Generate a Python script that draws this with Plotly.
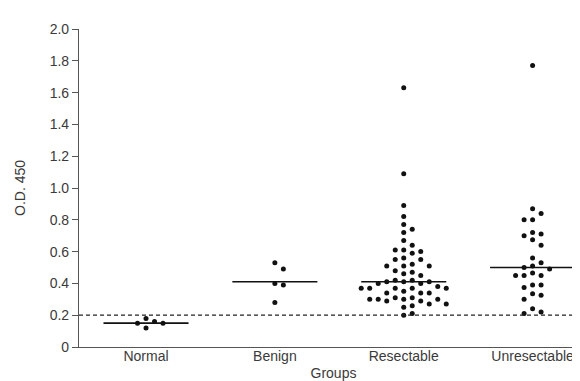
import plotly.graph_objects as go

groups = ["Normal", "Benign", "Resectable", "Unresectable"]

normal = [0.12, 0.15, 0.15, 0.16, 0.18]
benign = [0.28, 0.39, 0.40, 0.49, 0.53]
resectable = [1.63, 1.09, 0.89, 0.82, 0.77, 0.74, 0.72, 0.67, 0.64, 0.61, 0.61,
              0.60, 0.59, 0.56, 0.55, 0.55, 0.51, 0.51, 0.51, 0.52, 0.48, 0.47,
              0.46, 0.45, 0.42, 0.42, 0.41, 0.41, 0.41, 0.40, 0.40, 0.38, 0.37,
              0.37, 0.37, 0.37, 0.37, 0.35, 0.34, 0.34, 0.34, 0.31, 0.30, 0.30,
              0.29, 0.29, 0.30, 0.31, 0.30, 0.27, 0.27, 0.26, 0.25, 0.21, 0.20]
unresectable = [1.77, 0.87, 0.84, 0.80, 0.80, 0.72, 0.71, 0.70, 0.675, 0.64, 0.56,
                0.53, 0.51, 0.50, 0.49, 0.465, 0.45, 0.45, 0.45, 0.39, 0.39, 0.375,
                0.335, 0.325, 0.30, 0.24, 0.22, 0.21]
medians = [0.15, 0.41, 0.41, 0.50]
cutoff = 0.2

y_ticks = [0, 0.2, 0.4, 0.6, 0.8, 1.0, 1.2, 1.4, 1.6, 1.8, 2.0]
y_ticktext = ["0", "0.2", "0.4", "0.6", "0.8", "1.0", "1.2", "1.4", "1.6", "1.8", "2.0"]

series = [normal, benign, resectable, unresectable]

# beeswarm layout computed from values
PX_PER_Y = 159.0      # pixels per unit of y
COL_STEP = 0.066      # x offset per column (category units)
MIN_DY_PX = 7.0


def swarm(vals, center):
    placed = []  # (col, y)
    xs, ys = [], []
    order = [0]
    for i in range(1, 10):
        order += [i, -i]
    for v in sorted(vals, reverse=True):
        k = 0
        for c in order:
            if all(not (pc == c and abs(py - v) * PX_PER_Y < MIN_DY_PX) for pc, py in placed):
                k = c
                break
        placed.append((k, v))
        xs.append(center + k * COL_STEP)
        ys.append(v)
    return xs, ys


TXT = "#3a3a3a"

fig = go.Figure()
for i, vals in enumerate(series):
    xs, ys = swarm(vals, i)
    fig.add_trace(go.Scatter(x=xs, y=ys, mode="markers",
                             marker=dict(size=5, color="#111"),
                             showlegend=False, hoverinfo="y"))
    fig.add_trace(go.Scatter(x=[i - 0.33, i + 0.33], y=[medians[i], medians[i]],
                             mode="lines", line=dict(color="#111", width=1.6),
                             showlegend=False, hoverinfo="skip"))

fig.add_trace(go.Scatter(x=[-0.52, 3.43], y=[cutoff, cutoff], mode="lines",
                         line=dict(color="#222", width=1.3, dash="4px,3px"),
                         showlegend=False, hoverinfo="skip"))

fig.update_layout(
    width=580, height=381,
    margin=dict(l=71, r=0, t=21, b=42),
    paper_bgcolor="white", plot_bgcolor="white",
    font=dict(family="Liberation Sans, Arial, sans-serif", size=14, color=TXT),
    xaxis=dict(range=[-0.52, 3.43], tickmode="array", tickvals=[0, 1, 2, 3],
               ticktext=groups, showgrid=False, zeroline=False, showline=True,
               linecolor="#555", linewidth=1.2, ticks="",
               tickfont=dict(size=14, color=TXT), ticklabelstandoff=-4,
               title=dict(text="Groups", standoff=5, font=dict(size=14, color=TXT))),
    yaxis=dict(range=[0, 2.0], tickmode="array", tickvals=y_ticks,
               ticktext=y_ticktext, showgrid=False, zeroline=False, showline=True,
               linecolor="#555", linewidth=1.2, ticks="outside", ticklen=6,
               tickcolor="#555", tickfont=dict(size=14, color=TXT),
               title=dict(text="O.D. 450", standoff=20, font=dict(size=14, color=TXT))),
)

fig.write_html("out.html")
